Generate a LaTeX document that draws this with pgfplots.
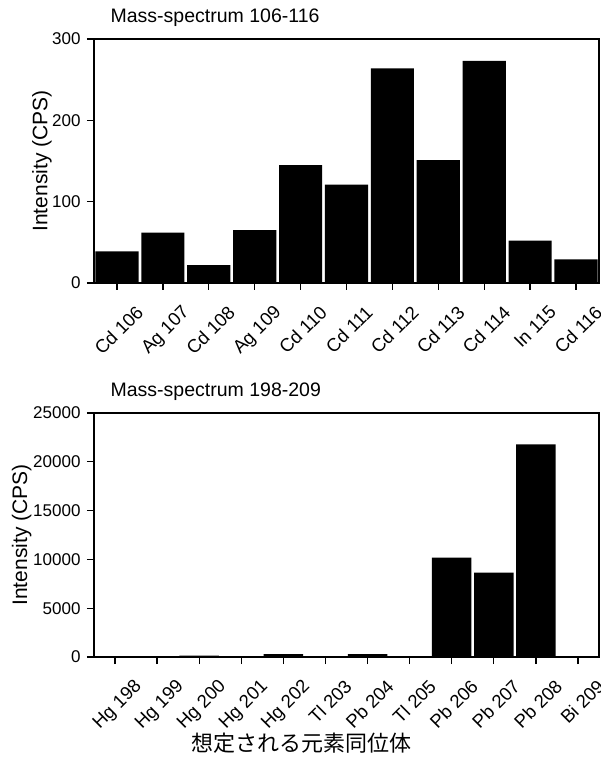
\documentclass[border=0pt]{standalone}
\usepackage{fontspec}
\setmainfont{Liberation Sans}
\newfontfamily\jp{Noto Sans CJK JP}
\usepackage{pgfplots}
\pgfplotsset{compat=1.18}

\pgfplotsset{
  spec/.style={
    scale only axis,
    width=505pt, height=244pt,
    ybar, bar width=0.94, bar shift=0pt,
    ymin=0,
    axis line style={line width=1.6pt},
    tick style={line width=1.3pt, black},
    tick align=outside,
    major tick length=7pt,
    xtick pos=bottom, ytick pos=left,
    xtick=data,
    /pgf/number format/assume math mode=true,
    scaled y ticks=false,
    yticklabel style={font=\fontsize{17}{19}\selectfont, xshift=-3pt, /pgf/number format/1000 sep={}},
    xticklabel style={font=\fontsize{18.5}{20}\selectfont, xshift=18pt, yshift=-14pt,
                      rotate=45, anchor=north east, inner sep=0pt},
    ylabel={Intensity (CPS)},
    ylabel style={font=\fontsize{21}{23}\selectfont, anchor=center},
    title style={font=\fontsize{19.5}{21}\selectfont, at={(axis description cs:0.026,1)}, anchor=base west, yshift=10pt},
  }
}

\begin{document}
\begin{tikzpicture}
\useasboundingbox (0pt,0pt) rectangle (601pt,764pt);

% 106-116
\begin{axis}[spec, at={(94pt,481pt)}, anchor=south west,
    title={Mass-spectrum 106-116},
    xmin=-0.5, xmax=10.5, ymax=300,
    ytick={0,100,200,300},
    ylabel style={at={(axis description cs:-0.103,0.5)}},
    xticklabels={Cd 106,Ag 107,Cd 108,Ag 109,Cd 110,Cd 111,Cd 112,Cd 113,Cd 114,In 115,Cd 116}]
\addplot[fill=black, draw=none] coordinates {
  (0,39) (1,62) (2,22) (3,65) (4,145) (5,121) (6,264) (7,151) (8,273) (9,52) (10,29)
};
\end{axis}

% 198-209
\begin{axis}[spec, at={(94pt,107pt)}, anchor=south west,
    title={Mass-spectrum 198-209},
    xmin=-0.5, xmax=11.5, ymax=25000,
    ytick={0,5000,10000,15000,20000,25000},
    ylabel style={at={(axis description cs:-0.143,0.5)}},
    xticklabels={Hg 198,Hg 199,Hg 200,Hg 201,Hg 202,Tl 203,Pb 204,Tl 205,Pb 206,Pb 207,Pb 208,Bi 209},
    xlabel={\jp 想定される元素同位体},
    xlabel style={font=\fontsize{22}{24}\selectfont, at={(axis description cs:0.41,0)}, anchor=center, yshift=-86pt}]
\addplot[fill=black, draw=none] coordinates {
  (0,30) (1,40) (2,150) (3,40) (4,300) (5,80) (6,300) (7,50) (8,10190) (9,8640) (10,21780) (11,20)
};
\end{axis}
\end{tikzpicture}
\end{document}
